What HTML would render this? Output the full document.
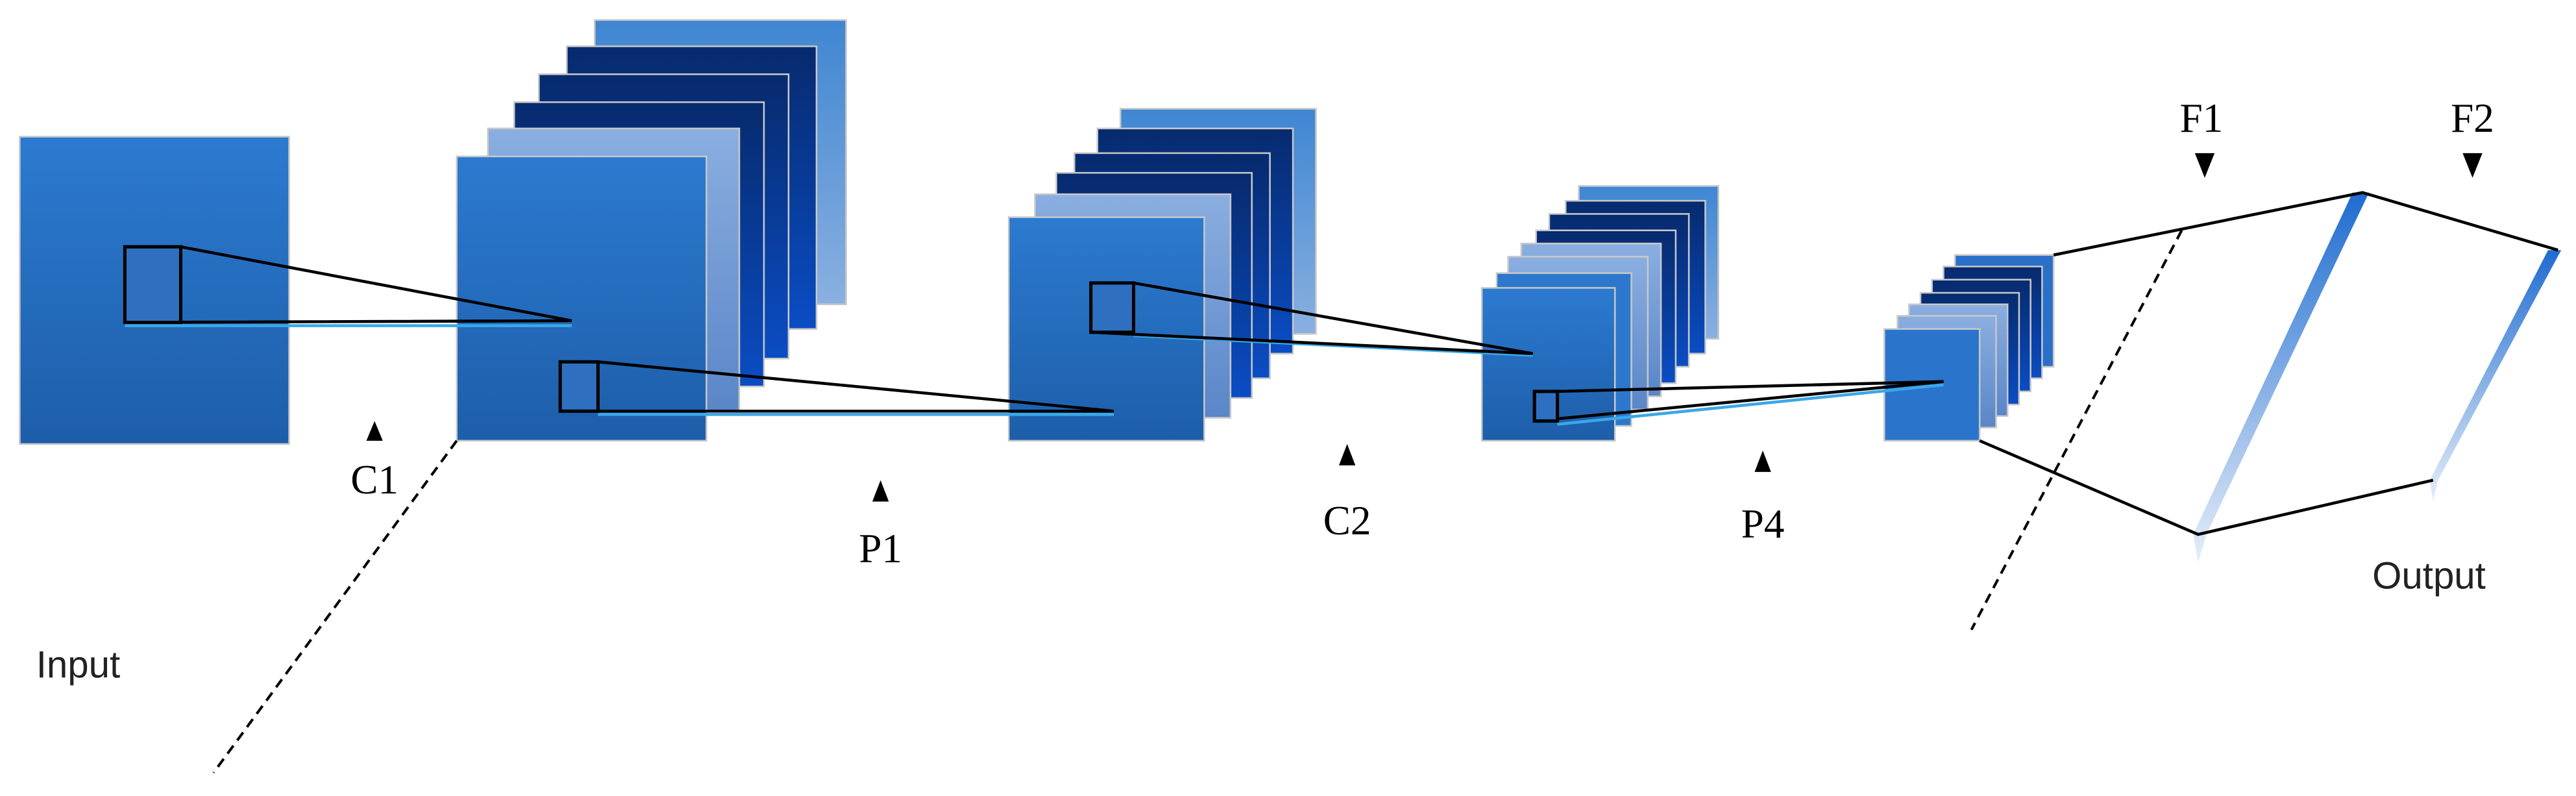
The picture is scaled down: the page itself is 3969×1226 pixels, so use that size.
<!DOCTYPE html>
<html><head><meta charset="utf-8"><style>
html,body{margin:0;padding:0;background:#fff}
svg{display:block}
</style></head><body>
<svg width="3969" height="1226" viewBox="0 0 1568 484" xmlns="http://www.w3.org/2000/svg">
<defs>
<linearGradient id="b" x1="0" y1="0" x2="0" y2="1"><stop offset="0" stop-color="#2c7ad0"/><stop offset="1" stop-color="#1d5ea9"/></linearGradient>
<linearGradient id="n" x1="0" y1="0" x2="0" y2="1"><stop offset="0" stop-color="#072a6e"/><stop offset="1" stop-color="#0a4dc4"/></linearGradient>
<linearGradient id="l" x1="0" y1="0" x2="0" y2="1"><stop offset="0" stop-color="#8aaee0"/><stop offset="1" stop-color="#5a86c8"/></linearGradient>
<linearGradient id="t" x1="0" y1="0" x2="0" y2="1"><stop offset="0" stop-color="#3f86d2"/><stop offset="1" stop-color="#8ab0e0"/></linearGradient>
<linearGradient id="bar" x1="0" y1="0" x2="0" y2="1"><stop offset="0" stop-color="#1f6cd0"/><stop offset="1" stop-color="#e6eef9"/></linearGradient>
</defs>
<g stroke="#c8c8c8" stroke-width="1">
<!-- input -->
<rect x="12" y="83" width="164" height="187" fill="url(#b)"/>
<!-- C1 stack -->
<rect x="362" y="12" width="153" height="173" fill="url(#t)"/>
<rect x="345" y="28" width="152" height="172" fill="url(#n)"/>
<rect x="328" y="45" width="152" height="173" fill="url(#n)"/>
<rect x="313" y="62" width="152" height="173" fill="url(#n)"/>
<rect x="297" y="78" width="153" height="172" fill="url(#l)"/>
<rect x="278" y="95" width="152" height="173" fill="url(#b)"/>
<!-- P1 stack -->
<rect x="682" y="66" width="119" height="137" fill="url(#t)"/>
<rect x="668" y="78" width="119" height="137" fill="url(#n)"/>
<rect x="654" y="93" width="119" height="137" fill="url(#n)"/>
<rect x="643" y="105" width="119" height="137" fill="url(#n)"/>
<rect x="630" y="118" width="119" height="136" fill="url(#l)"/>
<rect x="614" y="132" width="119" height="136" fill="url(#b)"/>
<!-- C2 stack -->
<rect x="961" y="113" width="85" height="93" fill="url(#t)"/>
<rect x="953" y="122" width="85" height="93" fill="url(#n)"/>
<rect x="943" y="130" width="85" height="93" fill="url(#n)"/>
<rect x="935" y="140" width="85" height="93" fill="url(#n)"/>
<rect x="926" y="148" width="85" height="93" fill="url(#l)"/>
<rect x="918" y="156" width="85" height="93" fill="url(#l)"/>
<rect x="911" y="166" width="82" height="93" fill="#2d78cc"/>
<rect x="902" y="175" width="81" height="93" fill="url(#b)"/>
<!-- P4 stack -->
<rect x="1190" y="155" width="60" height="68" fill="#2a6fc8"/>
<rect x="1183" y="162" width="60" height="68" fill="url(#n)"/>
<rect x="1176" y="170" width="60" height="68" fill="url(#n)"/>
<rect x="1169" y="178" width="60" height="68" fill="url(#n)"/>
<rect x="1162" y="185" width="60" height="68" fill="url(#l)"/>
<rect x="1155" y="192" width="60" height="68" fill="url(#l)"/>
<rect x="1147" y="200" width="58" height="68" fill="#2a74cc"/>
</g>
<!-- receptive field boxes & lines -->
<g fill="none" stroke-width="1.8">
<line x1="76" y1="198" x2="348" y2="198" stroke="#3aa8e8"/>
<polyline points="110,150 348,195 76,196" stroke="#000"/>
<line x1="364" y1="252" x2="678" y2="252" stroke="#3aa8e8"/>
<polyline points="364,220 678,250 341,250" stroke="#000"/>
<line x1="690" y1="204" x2="933" y2="216" stroke="#3aa8e8"/>
<polyline points="690,172 933,215 664,202" stroke="#000"/>
<line x1="948" y1="258" x2="1183" y2="234" stroke="#3aa8e8"/>
<polyline points="948,238 1183,232 934,256" stroke="#000"/>
</g>
<g fill="#2f6fc0" stroke="#000" stroke-width="2">
<rect x="76" y="150" width="34" height="46"/>
<rect x="341" y="220" width="23" height="30"/>
<rect x="664" y="172" width="26" height="30"/>
<rect x="934" y="238" width="14" height="18"/>
</g>
<!-- dashed lines -->
<g stroke="#000" stroke-width="1.6" stroke-dasharray="6,4" fill="none">
<line x1="278" y1="268" x2="130" y2="470"/>
<line x1="1328" y1="140" x2="1200" y2="383"/>
</g>
<!-- FC -->
<polygon points="1432,117 1442,117 1343,325 1338,342 1335,325" fill="url(#bar)"/>
<polygon points="1551,152 1559,152 1484,292 1481,305 1479,292" fill="url(#bar)"/>
<g stroke="#000" stroke-width="1.8" fill="none">
<polyline points="1250,155 1438,117 1557,152"/>
<polyline points="1205,268 1338,325 1481,292"/>
</g>
<!-- markers -->
<g fill="#000">
<polygon points="228,256 223,268 233,268"/>
<polygon points="536,292 531,305 541,305"/>
<polygon points="820,270 815,283 825,283"/>
<polygon points="1073,274 1068,287 1078,287"/>
<polygon points="1336,93 1348,93 1342,108"/>
<polygon points="1499,93 1511,93 1505,108"/>
</g>
<g font-family="Liberation Serif, serif" font-size="25" text-anchor="middle" fill="#000">
<text x="228" y="300">C1</text>
<text x="536" y="342">P1</text>
<text x="820" y="325">C2</text>
<text x="1073" y="327">P4</text>
<text x="1340" y="80">F1</text>
<text x="1505" y="80">F2</text>
</g>
<g font-family="Liberation Sans, sans-serif" font-size="23" fill="#222">
<text x="22" y="412">Input</text>
<text x="1444" y="358">Output</text>
</g>
</svg>
</body></html>
